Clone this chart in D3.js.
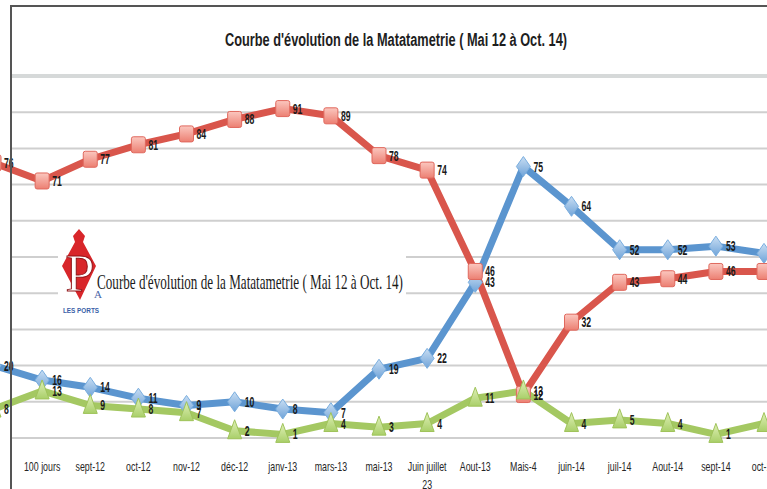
<!DOCTYPE html>
<html><head><meta charset="utf-8">
<script src="https://cdn.jsdelivr.net/npm/d3@7"></script>
<style>html,body{margin:0;padding:0;background:#fff;overflow:hidden}</style>
</head><body>
<script>
const categories = ["mai-12","100 jours","sept-12","oct-12","nov-12","déc-12","janv-13","mars-13","mai-13","Juin juillet","Aout-13","Mais-4","juin-14","juil-14","Aout-14","sept-14","oct-14"];
const tickLabels = ["","100 jours","sept-12","oct-12","nov-12","déc-12","janv-13","mars-13","mai-13","Juin juillet|23","Aout-13","Mais-4","juin-14","juil-14","Aout-14","sept-14","oct-14"];
const blueValues  = [20,16,14,11,9,10,8,7,19,22,43,75,64,52,52,53,51];
const redValues   = [76,71,77,81,84,88,91,89,78,74,46,12,32,43,44,46,46];
const greenValues = [8,13,9,8,7,2,1,4,3,4,11,13,4,5,4,1,4];
const yTicks = [0,10,20,30,40,50,60,70,80,90,100];
const title = "Courbe d'évolution de la Matatametrie ( Mai 12 à Oct. 14)";

const W = 767, H = 489;
const svg = d3.select("body").append("svg").attr("width", W).attr("height", H);
const defs = svg.append("defs");
function grad(id, c1, c2){
  const g = defs.append("linearGradient").attr("id", id).attr("x1",0).attr("y1",0).attr("x2",0).attr("y2",1);
  g.append("stop").attr("offset","0%").attr("stop-color",c1);
  g.append("stop").attr("offset","100%").attr("stop-color",c2);
}
grad("gRed", "#fbc7bf", "#ec7f72");
grad("gBlue", "#c9def3", "#6fa3d8");
grad("gGreen", "#e0f0b8", "#a9cf69");

const FONT = "Liberation Sans, Arial, sans-serif";
function condText(parent, tx, ty, str, opts) {
  const sx = opts.sx || 0.7;
  return parent.append("text")
    .attr("transform", `translate(${tx},${ty}) scale(${sx},1)`)
    .attr("x", 0).attr("y", 0)
    .attr("text-anchor", opts.anchor || "start")
    .attr("font-family", opts.family || FONT)
    .attr("font-weight", opts.weight || "normal")
    .attr("font-size", opts.size || 12)
    .attr("fill", opts.fill || "#222")
    .text(str);
}

const x = d3.scalePoint().domain(categories).range([-6, 764]);
const y = d3.scaleLinear().domain([0, 100]).range([438, 76]);

// gridlines
svg.append("g").selectAll("line").data(yTicks).join("line")
  .attr("x1", 11).attr("x2", W)
  .attr("y1", d => y(d)).attr("y2", d => y(d))
  .attr("stroke", d => d === 100 ? "#d6d9d9" : "#cfcfcf")
  .attr("stroke-width", d => d === 100 ? 4 : 2);

// white box for inner caption
svg.append("rect").attr("x", 58).attr("y", 228).attr("width", 348).attr("height", 80).attr("fill", "#fff");

// logo
const logo = svg.append("g");
logo.append("path").attr("d", "M79,229 L85,236 L83,242 L96,266 L80,300 L62,266 L75,242 L73,236 Z").attr("fill", "#d8262a");
logo.append("text").attr("x", 80).attr("y", 291).attr("text-anchor", "middle")
  .attr("font-family", "Liberation Serif, serif").attr("font-size", 52)
  .attr("fill", "#fff").attr("stroke", "#8e1014").attr("stroke-width", 1).text("P");
logo.append("text").attr("x", 98).attr("y", 298).attr("text-anchor", "middle")
  .attr("font-family", "Liberation Serif, serif").attr("font-size", 11).attr("fill", "#4a66a8").text("A");
condText(logo, 81, 313, "LES PORTS", {anchor: "middle", weight: "bold", size: 8, fill: "#3a5fa8", sx: 0.8});
svg.append("text").attr("x", 97).attr("y", 289)
  .attr("font-family", "Liberation Serif, serif").attr("font-size", 21).attr("fill", "#1a1a1a")
  .attr("textLength", 306).attr("lengthAdjust", "spacingAndGlyphs").text(title);

// series
const series = [
  {vals: blueValues, color: "#5b95cf", marker: "diamond", fill: "url(#gBlue)", stroke: "#7aaedf"},
  {vals: redValues, color: "#d9564c", marker: "square", fill: "url(#gRed)", stroke: "#e0685d"},
  {vals: greenValues, color: "#a4c862", marker: "triangle", fill: "url(#gGreen)", stroke: "#9fc35a"}
];
const line = d3.line().x((d, i) => x(categories[i])).y(d => y(d));
series.forEach(s => {
  svg.append("path").datum(s.vals).attr("d", line).attr("fill", "none")
    .attr("stroke", s.color).attr("stroke-width", 7).attr("stroke-linejoin", "round");
});
series.forEach(s => {
  const g = svg.append("g");
  s.vals.forEach((v, i) => {
    const cx = x(categories[i]), cy = y(v);
    if (s.marker === "square") {
      g.append("rect").attr("x", cx - 7).attr("y", cy - 8).attr("width", 14).attr("height", 16).attr("rx", 2)
        .attr("fill", s.fill).attr("stroke", s.stroke).attr("stroke-width", 1);
    } else if (s.marker === "diamond") {
      g.append("path").attr("d", `M${cx},${cy-10} L${cx+7},${cy} L${cx},${cy+10} L${cx-7},${cy} Z`)
        .attr("fill", s.fill).attr("stroke", s.stroke).attr("stroke-width", 1);
    } else {
      g.append("path").attr("d", `M${cx},${cy-11} L${cx+7},${cy+8} L${cx-7},${cy+8} Z`)
        .attr("fill", s.fill).attr("stroke", s.stroke).attr("stroke-width", 1);
    }
  });
});
// data labels
series.forEach(s => {
  const g = svg.append("g");
  s.vals.forEach((v, i) => {
    condText(g, x(categories[i]) + 10, y(v) + 5, v, {weight: "bold", size: 14, fill: "#1a1a1a", sx: 0.62});
  });
});

// x axis labels
const xl = svg.append("g");
tickLabels.forEach((t, i) => {
  t.split("|").forEach((p, k) => {
    if (p) condText(xl, x(categories[i]), 471 + k * 18, p, {anchor: "middle", size: 13, fill: "#262626", sx: 0.68});
  });
});

// frame
svg.append("line").attr("x1", 11).attr("x2", 11).attr("y1", 6).attr("y2", H).attr("stroke", "#555").attr("stroke-width", 2);
svg.append("line").attr("x1", 10).attr("x2", W).attr("y1", 6).attr("y2", 6).attr("stroke", "#555").attr("stroke-width", 2);

// title
svg.append("text").attr("x", 396).attr("y", 46).attr("text-anchor", "middle")
  .attr("font-family", FONT).attr("font-weight", "bold")
  .attr("font-size", 18).attr("fill", "#1e1e1e")
  .attr("textLength", 342).attr("lengthAdjust", "spacingAndGlyphs").text(title);
</script>
</body></html>
